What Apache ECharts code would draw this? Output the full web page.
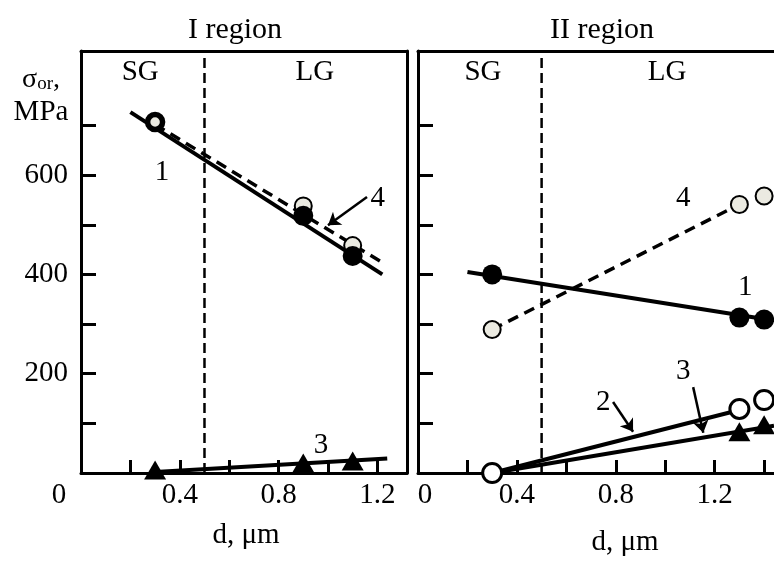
<!DOCTYPE html>
<html>
<head>
<meta charset="utf-8">
<script src="https://cdn.jsdelivr.net/npm/echarts@6/dist/echarts.min.js"></script>
<style>
  html, body { margin: 0; padding: 0; background: #fff; }
  #chart { width: 774px; height: 563px; }
</style>
</head>
<body>
<div id="chart"></div>
<script>
// values
const yMax = 850
const boundaryD = 0.5

// I region
const d1 = [0.3, 0.9, 1.1]
const r1Curve1 = [707, 518, 437]
const r1Curve4 = [707, 538, 458]
const r1Curve3 = [6, 20, 24]
const r1Fit1 = [[0.2, 727], [1.22, 400]]
const r1Fit4 = [[0.3, 702], [1.22, 424]]
const r1Fit3 = [[0.3, 2], [1.24, 29]]

// II region
const d2 = [0.3, 1.3, 1.4]
const r2Curve1 = [400, 313, 309]
const r2Curve4 = [289, 541, 558]
const r2Curve2 = [0, 129, 147]
const d2Tri = [1.3, 1.4]
const r2Curve3 = [83, 97]
const r2Fit1 = [[0.2, 405], [1.4, 310]]
const r2Fit4 = [[0.3, 289], [1.3, 541]]
const r2Fit2 = [[0.3, 0], [1.3, 127]]
const r2Fit3 = [[0.3, 0], [1.44, 95]]

// ticks
const yTicks = [100, 200, 300, 400, 500, 600, 700]
const yTickLabels = [200, 400, 600]
const xTicks1 = [0.2, 0.4, 0.6, 0.8, 1.0, 1.2]
const xTicks2 = [0.2, 0.4, 0.6, 0.8, 1.0, 1.2, 1.4]
const xTickLabels = [0, 0.4, 0.8, 1.2]

// text marks inside the plots: [d, sigma, text]
const notes1 = [[0.24, 806, 'SG'], [0.947, 806, 'LG'], [0.328, 606, '1'], [1.202, 554, '4'], [0.972, 56, '3']]
const notes2 = [[0.263, 806, 'SG'], [1.008, 806, 'LG'], [1.073, 554, '4'], [1.324, 373, '1'], [0.749, 143, '2'], [1.073, 205, '3']]
const arrows1 = [[[1.158, 556], [1.0, 499]]]
const arrows2 = [[[0.789, 143], [0.87, 83]], [[1.113, 173], [1.154, 81]]]

const FONT = 'Liberation Serif'
const FS = 29
const LIGHT = '#ebeae1'

const zip = (xs, ys) => xs.map((x, i) => [x, ys[i]])

function xAxisFor(grid, max, ticks, zeroPad) {
    return {
        type: 'value', gridIndex: grid, min: 0, max: max, position: 'bottom',
        axisLine: { onZero: false, lineStyle: { color: '#000', width: 3 } },
        axisTick: { inside: true, length: 13, customValues: ticks, lineStyle: { color: '#000', width: 3 } },
        axisLabel: {
            customValues: xTickLabels, margin: 8, color: '#000', fontFamily: FONT, fontSize: FS,
            formatter: v => v === 0 ? '{z|0}' : v.toFixed(1),
            rich: { z: { padding: zeroPad, color: '#000', fontFamily: FONT, fontSize: FS } }
        },
        splitLine: { show: false }
    }
}

function frameX(grid, max) {
    return {
        type: 'value', gridIndex: grid, min: 0, max: max, position: 'top',
        axisLine: { onZero: false, lineStyle: { color: '#000', width: 3 } },
        axisTick: { show: false }, axisLabel: { show: false }, splitLine: { show: false }
    }
}

function yAxisFor(grid, labels) {
    return {
        type: 'value', gridIndex: grid, min: 0, max: yMax, position: 'left',
        axisLine: { onZero: false, lineStyle: { color: '#000', width: 3 } },
        axisTick: { inside: true, length: 15, customValues: yTicks, lineStyle: { color: '#000', width: 3 } },
        axisLabel: {
            show: labels, customValues: yTickLabels, margin: 13,
            color: '#000', fontFamily: FONT, fontSize: FS
        },
        splitLine: { show: false }
    }
}

function fitLine(grid, data, dashed) {
    return {
        type: 'line', xAxisIndex: grid * 2, yAxisIndex: grid === 0 ? 0 : 2,
        data: data, showSymbol: false, symbol: 'none', z: 3,
        lineStyle: { color: '#000', width: dashed ? 3.5 : 4, type: dashed ? [11, 7] : 'solid', opacity: 1 }
    }
}

function boundary(grid) {
    return {
        type: 'line', xAxisIndex: grid * 2, yAxisIndex: grid === 0 ? 0 : 2,
        data: [[boundaryD, 0], [boundaryD, yMax]], symbol: 'none', z: 2,
        lineStyle: { color: '#000', width: 2.5, type: [10, 5] }
    }
}

function markers(grid, data, kind, z) {
    const base = {
        type: 'scatter', xAxisIndex: grid * 2, yAxisIndex: grid === 0 ? 0 : 2,
        data: data, z: z
    }
    if (kind === 'black') return Object.assign(base, { symbol: 'circle', symbolSize: 20, itemStyle: { color: '#000', opacity: 1 } })
    if (kind === 'light') return Object.assign(base, { symbol: 'circle', symbolSize: 17, itemStyle: { color: LIGHT, borderColor: '#000', borderWidth: 2, opacity: 1 } })
    if (kind === 'open') return Object.assign(base, { symbol: 'circle', symbolSize: 19, itemStyle: { color: '#fff', borderColor: '#000', borderWidth: 3, opacity: 1 } })
    return Object.assign(base, { symbol: 'triangle', symbolSize: [22, 19], itemStyle: { color: '#000', opacity: 1 } })
}

function notes(grid, data) {
    return {
        type: 'scatter', xAxisIndex: grid * 2, yAxisIndex: grid === 0 ? 0 : 2,
        data: data, symbolSize: 0, z: 6, silent: true,
        itemStyle: { opacity: 1 },
        label: {
            show: true, position: 'inside', formatter: p => p.data[2],
            color: '#000', opacity: 1, fontFamily: FONT, fontSize: FS
        }
    }
}

function arrows(grid, data) {
    return {
        type: 'lines', coordinateSystem: 'cartesian2d', xAxisIndex: grid * 2, yAxisIndex: grid === 0 ? 0 : 2,
        data: data.map(c => ({ coords: c })), z: 6,
        symbol: ['none', 'arrow'], symbolSize: 12,
        lineStyle: { color: '#000', width: 2.5, opacity: 1 }
    }
}

// first point of curve 1 in region I is drawn as a ringed marker
const r1c1 = zip(d1, r1Curve1).map((v, i) => i === 0
    ? { value: v, symbolSize: 15, itemStyle: { color: LIGHT, borderColor: '#000', borderWidth: 5.5, opacity: 1 } }
    : v)

const chart = echarts.init(document.getElementById('chart'))
chart.setOption({
    animation: false,
    backgroundColor: '#fff',
    grid: [
        { left: 81, top: 51, width: 326, height: 422 },
        { left: 418, top: 51, right: 0, height: 422 }
    ],
    xAxis: [
        xAxisFor(0, 1.32, xTicks1, [0, 44, 0, 0]),
        frameX(0, 1.32),
        xAxisFor(1, 1.44, xTicks2, [0, 0, 0, 14]),
        frameX(1, 1.44)
    ],
    yAxis: [
        yAxisFor(0, true),
        { type: 'value', gridIndex: 0, min: 0, max: yMax, position: 'right',
          axisLine: { onZero: false, lineStyle: { color: '#000', width: 3 } },
          axisTick: { show: false }, axisLabel: { show: false }, splitLine: { show: false } },
        yAxisFor(1, false)
    ],
    graphic: [
        { type: 'text', x: 235, y: 30, style: { text: 'I region', font: '30px ' + FONT, fill: '#000', textAlign: 'center', textVerticalAlign: 'middle' } },
        { type: 'text', x: 602, y: 30, style: { text: 'II region', font: '30px ' + FONT, fill: '#000', textAlign: 'center', textVerticalAlign: 'middle' } },
        { type: 'text', x: 246, y: 535, style: { text: 'd, μm', font: FS + 'px ' + FONT, fill: '#000', textAlign: 'center', textVerticalAlign: 'middle' } },
        { type: 'text', x: 625, y: 542, style: { text: 'd, μm', font: FS + 'px ' + FONT, fill: '#000', textAlign: 'center', textVerticalAlign: 'middle' } },
        { type: 'text', x: 41, y: 80, style: {
            text: '{a|σ}{b|or}{a|,}', textAlign: 'center', textVerticalAlign: 'middle',
            rich: {
                a: { fontFamily: FONT, fontSize: 28, fill: '#000', color: '#000' },
                b: { fontFamily: FONT, fontSize: 19, fill: '#000', color: '#000', verticalAlign: 'bottom', padding: [8, 0, 0, 0] }
            } } },
        { type: 'text', x: 41, y: 112, style: { text: 'MPa', font: FS + 'px ' + FONT, fill: '#000', textAlign: 'center', textVerticalAlign: 'middle' } }
    ],
    series: [
        boundary(0),
        boundary(1),
        fitLine(0, r1Fit1, false),
        fitLine(0, r1Fit4, true),
        fitLine(0, r1Fit3, false),
        markers(0, zip(d1, r1Curve4), 'light', 4),
        markers(0, r1c1, 'black', 5),
        markers(0, zip(d1, r1Curve3), 'tri', 5),
        notes(0, notes1),
        arrows(0, arrows1),

        fitLine(1, r2Fit1, false),
        fitLine(1, r2Fit4, true),
        fitLine(1, r2Fit2, false),
        fitLine(1, r2Fit3, false),
        markers(1, zip(d2, r2Curve1), 'black', 5),
        markers(1, zip(d2, r2Curve4), 'light', 5),
        markers(1, zip(d2Tri, r2Curve3), 'tri', 5),
        markers(1, zip(d2, r2Curve2), 'open', 5),
        notes(1, notes2),
        arrows(1, arrows2)
    ]
})
</script>
</body>
</html>
